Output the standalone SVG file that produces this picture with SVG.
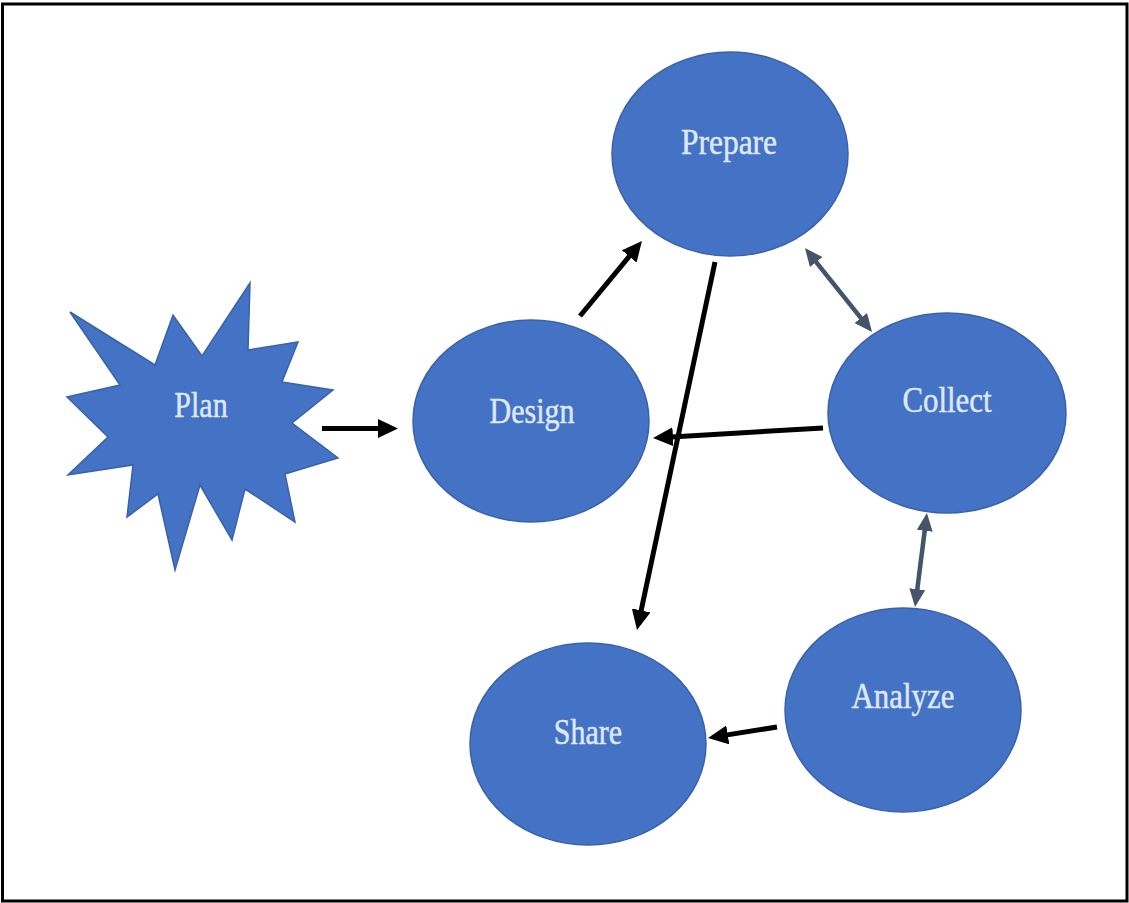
<svg xmlns="http://www.w3.org/2000/svg" width="1129" height="903" viewBox="0 0 1129 903">
  <style>
    .node { fill: #4472c4; stroke: #3a62a8; stroke-width: 1.5; }
    .label { font-family: "Liberation Serif", "Times New Roman", serif; font-size: 30px; fill: #dfe8f7; stroke: #dfe8f7; stroke-width: 0.4; text-anchor: middle; }
    .blk { stroke: #000; stroke-width: 5; fill: none; marker-end: url(#ahBlack); }
    .dbl { stroke: #44546a; stroke-width: 4.5; fill: none; marker-start: url(#ahGrey); marker-end: url(#ahGrey); }
  </style>
  <defs>
    <marker id="ahBlack" markerUnits="userSpaceOnUse" markerWidth="22" markerHeight="20" refX="10" refY="9.5" orient="auto">
      <path d="M0,0 L20,9.5 L0,19 z" fill="#000"/>
    </marker>
    <marker id="ahGrey" markerUnits="userSpaceOnUse" markerWidth="20" markerHeight="18" refX="8" refY="8" orient="auto-start-reverse">
      <path d="M0,0 L18,8 L0,16 z" fill="#44546a"/>
    </marker>
  </defs>
  <rect x="2.5" y="4" width="1124.5" height="897" fill="#fff" stroke="#000" stroke-width="3"/>

  <g id="plan">
    <polygon class="node" points="70,312 155,365 173,315 202,356 250,283 248,350 298,342 282,382 333,390 292,423 338,458 285,474 295,522 245,489 232,540 200,485 175,570 158,494 127,517 133,465 68,475 108,437 67,397 120,385"/>
    <text class="label" transform="translate(201,417) scale(1,1.2)">Plan</text>
  </g>
  <g id="design">
    <ellipse class="node" cx="531" cy="421" rx="118" ry="101"/>
    <text class="label" transform="translate(532,423) scale(1,1.2)">Design</text>
  </g>
  <g id="prepare">
    <ellipse class="node" cx="730" cy="154" rx="118" ry="102"/>
    <text class="label" transform="translate(729,154) scale(1.05,1.2)">Prepare</text>
  </g>
  <g id="collect">
    <ellipse class="node" cx="947" cy="413" rx="119" ry="100"/>
    <text class="label" transform="translate(947,412) scale(1.03,1.2)">Collect</text>
  </g>
  <g id="analyze">
    <ellipse class="node" cx="903" cy="710" rx="118" ry="102"/>
    <text class="label" transform="translate(903,708) scale(1.03,1.2)">Analyze</text>
  </g>
  <g id="share">
    <ellipse class="node" cx="588" cy="744" rx="118" ry="101"/>
    <text class="label" transform="translate(588,744) scale(1,1.2)">Share</text>
  </g>

  <g id="connectors">
    <line class="blk" x1="322" y1="428.5" x2="388" y2="428.5"/>
    <line class="blk" x1="580" y1="316" x2="635.6" y2="248.7"/>
    <line class="blk" x1="715" y1="262" x2="639.1" y2="620.2"/>
    <line class="blk" x1="823" y1="428" x2="663" y2="437.4"/>
    <line class="blk" x1="777" y1="727" x2="717.9" y2="736.4"/>
    <line class="dbl" x1="811.2" y1="255.8" x2="865.8" y2="324.2"/>
    <line class="dbl" x1="925.7" y1="522.9" x2="916.3" y2="597.1"/>
  </g>
</svg>
